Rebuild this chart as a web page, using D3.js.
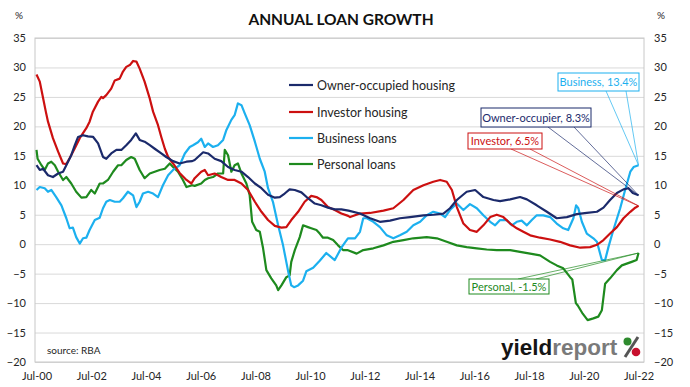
<!DOCTYPE html>
<html><head><meta charset="utf-8">
<script src="https://cdn.jsdelivr.net/npm/d3@7"></script>
<style>
html,body{margin:0;padding:0;background:#fff;}
svg{display:block;font-family:Lato,"Open Sans",sans-serif;}
</style></head>
<body><svg id="c" width="690" height="387"></svg>
<script>
// ---- DATA (decimal year, annual growth %) ----
const xTickYears = [2000.5,2002.5,2004.5,2006.5,2008.5,2010.5,2012.5,2014.5,2016.5,2018.5,2020.5,2022.5];
const xTickLabels = ["Jul-00","Jul-02","Jul-04","Jul-06","Jul-08","Jul-10","Jul-12","Jul-14","Jul-16","Jul-18","Jul-20","Jul-22"];
const yTicks = [35,30,25,20,15,10,5,0,-5,-10,-15,-20];
const seriesNames = ["Owner-occupied housing","Investor housing","Business loans","Personal loans"];
const seriesColors = ["#1b2a6b","#cc1010","#1cb0ef","#1e8a1e"];
const calloutTexts = ["Owner-occupier, 8.3%","Investor, 6.5%","Business, 13.4%","Personal, -1.5%"];

const ownerOccupied = [
[2000.50,13.4],[2000.62,12.6],[2000.74,12.8],[2000.92,11.7],[2001.10,11.4],[2001.29,12.0],[2001.47,12.3],[2001.59,13.4],
[2001.77,15.1],[2001.90,16.8],[2002.02,18.2],[2002.20,18.5],[2002.38,18.3],[2002.57,18.2],[2002.75,17.1],[2002.93,14.8],
[2003.05,14.5],[2003.23,15.4],[2003.42,16.0],[2003.60,16.0],[2003.78,16.8],[2003.96,17.7],[2004.13,18.8],[2004.27,17.7],
[2004.45,17.4],[2004.64,16.8],[2004.82,16.2],[2005.06,15.4],[2005.24,14.8],[2005.49,14.1],[2005.73,13.7],[2005.98,14.0],
[2006.19,14.1],[2006.28,14.3],[2006.59,15.6],[2006.77,15.4],[2007.01,14.5],[2007.25,14.1],[2007.50,13.1],[2007.74,12.6],
[2007.99,12.3],[2008.23,11.4],[2008.48,10.3],[2008.72,9.5],[2008.96,8.4],[2009.21,7.9],[2009.39,8.0],[2009.57,8.6],
[2009.75,9.3],[2009.94,9.2],[2010.18,8.8],[2010.42,7.8],[2010.67,6.9],[2010.91,6.6],[2011.15,6.2],[2011.40,5.9],
[2011.64,5.9],[2011.90,5.7],[2012.32,5.2],[2012.69,4.4],[2013.05,3.8],[2013.42,4.0],[2013.78,4.4],[2014.15,4.6],
[2014.64,4.9],[2015.00,5.0],[2015.37,5.2],[2015.61,6.1],[2015.86,7.5],[2016.22,8.9],[2016.53,9.2],[2016.83,8.0],
[2017.20,7.5],[2017.44,7.3],[2017.81,7.6],[2018.17,8.0],[2018.42,7.6],[2018.78,6.6],[2019.15,5.5],[2019.51,4.4],
[2019.88,4.6],[2020.24,5.1],[2020.61,5.3],[2020.98,5.5],[2021.22,6.2],[2021.46,7.5],[2021.71,8.7],[2021.95,9.3],
[2022.13,9.5],[2022.29,8.7],[2022.50,8.3]];

const investor = [
[2000.50,28.8],[2000.62,27.6],[2000.74,24.8],[2000.84,22.5],[2000.92,20.8],[2001.10,18.0],[2001.29,15.7],[2001.47,13.7],
[2001.59,13.6],[2001.71,14.6],[2001.90,16.3],[2002.08,18.0],[2002.32,19.7],[2002.44,20.8],[2002.56,22.5],[2002.75,24.2],
[2002.87,25.0],[2002.93,24.8],[2003.05,25.3],[2003.23,26.4],[2003.36,27.8],[2003.54,28.1],[2003.66,29.3],[2003.78,30.1],
[2003.91,30.4],[2004.03,31.1],[2004.15,31.0],[2004.27,29.8],[2004.45,27.6],[2004.64,24.7],[2004.76,22.5],[2004.94,20.2],
[2005.06,18.2],[2005.19,16.2],[2005.31,14.8],[2005.49,13.7],[2005.73,12.1],[2005.98,10.9],[2006.16,10.3],[2006.28,11.2],
[2006.52,12.3],[2006.65,12.6],[2006.77,11.7],[2007.01,12.0],[2007.25,11.4],[2007.50,10.9],[2007.74,10.9],[2007.99,10.3],
[2008.23,9.2],[2008.48,7.2],[2008.72,5.5],[2008.96,4.1],[2009.21,3.1],[2009.45,2.8],[2009.63,2.9],[2009.81,4.1],
[2010.06,5.5],[2010.30,7.2],[2010.54,8.2],[2010.73,8.0],[2010.91,7.5],[2011.15,6.3],[2011.40,5.8],[2011.64,5.2],
[2011.89,4.8],[2011.96,4.6],[2012.32,5.2],[2012.69,5.3],[2013.18,5.7],[2013.54,6.1],[2013.91,7.5],[2014.27,9.2],
[2014.64,10.0],[2015.00,10.6],[2015.25,10.9],[2015.49,10.6],[2015.68,9.2],[2015.86,6.3],[2016.10,3.5],[2016.34,2.4],
[2016.59,2.1],[2016.83,3.2],[2017.08,4.6],[2017.32,5.0],[2017.56,4.6],[2017.81,3.5],[2018.05,2.7],[2018.29,2.1],
[2018.54,1.5],[2018.90,1.1],[2019.27,0.8],[2019.63,0.4],[2020.00,-0.2],[2020.37,-0.6],[2020.73,-0.5],[2020.98,-0.1],
[2021.22,0.7],[2021.46,1.8],[2021.71,2.9],[2021.95,4.4],[2022.20,5.5],[2022.38,6.2],[2022.50,6.5]];

const business = [
[2000.50,9.2],[2000.62,9.7],[2000.80,9.5],[2000.92,8.9],[2001.04,9.2],[2001.22,8.0],[2001.41,6.6],[2001.59,4.4],
[2001.71,2.7],[2001.83,2.8],[2001.95,1.2],[2002.08,0.1],[2002.20,1.0],[2002.32,1.1],[2002.44,2.4],[2002.63,4.1],
[2002.81,4.5],[2002.93,6.1],[2003.05,7.2],[2003.18,7.5],[2003.36,7.2],[2003.54,7.2],[2003.66,7.8],[2003.84,8.9],
[2004.03,8.3],[2004.15,6.3],[2004.27,7.2],[2004.39,8.6],[2004.58,8.9],[2004.76,8.6],[2004.94,8.0],[2005.12,10.0],
[2005.31,11.7],[2005.49,12.6],[2005.73,13.4],[2005.92,15.4],[2006.10,16.5],[2006.22,16.8],[2006.40,17.3],[2006.52,17.9],
[2006.65,16.5],[2006.77,17.1],[2006.95,16.5],[2007.13,16.8],[2007.32,17.7],[2007.44,19.4],[2007.62,21.1],[2007.74,21.9],
[2007.86,23.9],[2007.99,23.6],[2008.11,22.2],[2008.29,20.2],[2008.48,17.4],[2008.66,14.5],[2008.84,12.3],[2008.96,9.5],
[2009.14,7.2],[2009.33,3.2],[2009.51,-0.2],[2009.70,-4.7],[2009.81,-7.0],[2009.91,-7.3],[2010.06,-7.0],[2010.24,-6.2],
[2010.36,-4.6],[2010.61,-4.0],[2010.85,-2.8],[2011.09,-1.5],[2011.40,-2.7],[2011.64,-0.6],[2011.88,1.0],[2012.14,1.0],
[2012.32,2.1],[2012.44,4.4],[2012.57,4.4],[2012.81,3.8],[2013.05,2.9],[2013.30,1.5],[2013.54,1.0],[2013.78,1.5],
[2014.03,2.1],[2014.27,3.2],[2014.52,3.8],[2014.76,4.9],[2015.00,5.5],[2015.25,5.2],[2015.43,4.6],[2015.61,5.8],
[2015.86,6.9],[2016.10,5.8],[2016.34,6.8],[2016.59,6.1],[2016.83,4.9],[2017.08,3.8],[2017.26,3.2],[2017.44,4.1],
[2017.68,4.1],[2017.87,3.2],[2018.05,3.8],[2018.23,4.0],[2018.42,3.2],[2018.60,4.1],[2018.78,4.9],[2019.02,4.9],
[2019.27,4.6],[2019.51,3.5],[2019.75,2.7],[2019.93,2.4],[2020.12,4.4],[2020.22,6.6],[2020.30,6.1],[2020.43,3.8],
[2020.61,1.8],[2020.85,1.0],[2020.98,0.4],[2021.16,-2.7],[2021.28,-2.7],[2021.40,-0.5],[2021.58,2.4],[2021.83,6.1],
[2022.01,9.2],[2022.20,12.3],[2022.32,13.1],[2022.50,13.4]];

const personal = [
[2000.50,16.0],[2000.54,14.5],[2000.68,13.4],[2000.80,12.6],[2000.92,13.7],[2001.04,14.0],[2001.17,13.4],[2001.29,12.3],
[2001.47,10.9],[2001.59,11.4],[2001.77,10.3],[2001.95,8.9],[2002.14,7.9],[2002.32,8.0],[2002.50,9.2],[2002.63,8.6],
[2002.81,10.3],[2002.93,10.3],[2003.11,10.9],[2003.30,12.3],[2003.48,13.4],[2003.60,13.4],[2003.78,14.3],[2003.96,14.8],
[2004.09,14.5],[2004.27,12.6],[2004.45,11.2],[2004.64,12.0],[2004.82,12.3],[2005.00,12.6],[2005.19,12.8],[2005.37,13.7],
[2005.49,13.1],[2005.67,12.3],[2005.85,10.9],[2005.98,9.7],[2006.19,10.0],[2006.28,9.9],[2006.52,10.3],[2006.65,10.9],
[2006.77,11.2],[2006.95,11.4],[2007.13,12.0],[2007.32,12.0],[2007.38,16.0],[2007.50,15.1],[2007.62,12.3],[2007.74,13.4],
[2007.86,13.7],[2007.99,12.0],[2008.17,10.3],[2008.29,8.3],[2008.38,3.8],[2008.53,2.4],[2008.66,2.1],[2008.78,-0.7],
[2008.90,-4.4],[2009.08,-5.8],[2009.26,-7.0],[2009.33,-7.8],[2009.45,-7.0],[2009.63,-5.6],[2009.75,-5.3],[2009.81,-3.0],
[2009.94,-1.0],[2010.12,1.2],[2010.24,3.2],[2010.42,2.9],[2010.54,2.7],[2010.73,2.4],[2010.85,1.8],[2010.97,1.1],
[2011.15,1.1],[2011.34,0.7],[2011.52,-0.2],[2011.70,-1.0],[2011.86,-1.0],[2012.20,-1.6],[2012.44,-1.0],[2012.81,-0.7],
[2013.18,-0.2],[2013.54,0.4],[2013.91,0.7],[2014.27,1.0],[2014.76,1.2],[2015.13,1.0],[2015.49,0.4],[2015.86,-0.2],
[2016.22,-0.5],[2016.59,-0.7],[2016.95,-0.9],[2017.32,-1.0],[2017.81,-1.0],[2018.17,-1.3],[2018.54,-1.6],[2018.90,-1.9],
[2019.27,-3.0],[2019.51,-3.6],[2019.75,-4.1],[2020.00,-5.6],[2020.08,-6.0],[2020.21,-10.0],[2020.28,-10.4],[2020.46,-11.8],
[2020.64,-12.9],[2020.85,-12.6],[2021.03,-12.3],[2021.16,-11.2],[2021.28,-6.7],[2021.46,-5.8],[2021.71,-4.4],[2021.89,-3.6],
[2022.07,-3.3],[2022.25,-3.0],[2022.43,-2.7],[2022.50,-1.5]];

const allSeries = [ownerOccupied, investor, business, personal];

// ---- CHART ----
const svg = d3.select("#c");
const L = 35, R = 644, T = 38, B = 362;
const x = d3.scaleLinear().domain([2000.445, 2022.70]).range([L, R]);
const y = d3.scaleLinear().domain([-20, 35]).range([B, T]);
const txt = "#262626";

// gridlines
svg.append("g").attr("transform", `translate(${L},0)`)
  .call(d3.axisLeft(y).tickValues(yTicks).tickSize(-(R - L)).tickFormat(""))
  .call(g => g.select(".domain").remove())
  .call(g => g.selectAll("line").attr("stroke", "#d9d9d9").attr("stroke-width", 1));
// frame
svg.append("rect").attr("x", L).attr("y", T).attr("width", R - L).attr("height", B - T)
  .attr("fill", "none").attr("stroke", "#c8c8c8").attr("stroke-width", 1);

// y labels left & right
svg.append("g").attr("transform", `translate(${L - 9},0)`)
  .call(d3.axisLeft(y).tickValues(yTicks).tickSize(0).tickPadding(0).tickFormat(d3.format("d")))
  .call(g => g.select(".domain").remove())
  .call(g => g.selectAll("text").attr("fill", txt).style("font-size", "11px").style("font-family", "Lato"));
svg.append("g").attr("transform", `translate(${R + 10},0)`)
  .call(d3.axisRight(y).tickValues(yTicks).tickSize(0).tickPadding(0).tickFormat(d3.format("d")))
  .call(g => g.select(".domain").remove())
  .call(g => g.selectAll("text").attr("fill", txt).style("font-size", "11px").style("font-family", "Lato"));

// x labels
svg.append("g").attr("transform", `translate(0,${B + 10})`)
  .call(d3.axisBottom(x).tickValues(xTickYears).tickSize(0).tickPadding(0)
    .tickFormat((d, i) => xTickLabels[i]))
  .call(g => g.select(".domain").remove())
  .call(g => g.selectAll("text").attr("fill", txt).style("font-size", "11px").style("font-family", "Lato"));

// % labels
svg.append("text").attr("x", 19).attr("y", 19).attr("text-anchor", "middle").attr("fill", txt)
  .style("font-size", "10px").text("%");
svg.append("text").attr("x", 661).attr("y", 19).attr("text-anchor", "middle").attr("fill", txt)
  .style("font-size", "10px").text("%");

// title
svg.append("text").attr("x", 341).attr("y", 25).attr("text-anchor", "middle").attr("fill", "#111")
  .style("font-size", "15.5px").style("font-weight", "bold").text("ANNUAL LOAN GROWTH");

// lines
const line = d3.line().x(d => x(d[0])).y(d => y(d[1]));
[3, 2, 1, 0].forEach(i => {
  svg.append("path").datum(allSeries[i]).attr("d", line).attr("fill", "none")
    .attr("stroke", seriesColors[i]).attr("stroke-width", 2.2).attr("stroke-linejoin", "round");
});

// legend
const legY = [85, 112, 138, 164];
seriesNames.forEach((n, i) => {
  svg.append("line").attr("x1", 289).attr("x2", 313).attr("y1", legY[i]).attr("y2", legY[i])
    .attr("stroke", seriesColors[i]).attr("stroke-width", 2.2);
  svg.append("text").attr("x", 317).attr("y", legY[i] + 4.5).attr("fill", txt)
    .style("font-size", "12.5px").text(n);
});

// callouts
const boxes = [
  {x: 481, y: 108, w: 110, h: 19, l1: 548, l2: 574, top: false},
  {x: 468, y: 133, w: 74, h: 16, l1: 511, l2: 530, top: false},
  {x: 558, y: 73, w: 81, h: 18, l1: 606, l2: 626, top: false},
  {x: 469, y: 279, w: 80, h: 15, l1: 518, l2: 536, top: true}
];
boxes.forEach((b, i) => {
  const s = allSeries[i];
  const last = s[s.length - 1];
  const ex = x(last[0]), ey = y(last[1]);
  const ly = b.top ? b.y : b.y + b.h;
  [b.l1, b.l2].forEach(lx => {
    svg.append("line").attr("x1", lx).attr("y1", ly).attr("x2", ex).attr("y2", ey)
      .attr("stroke", seriesColors[i]).attr("stroke-width", 0.8).attr("opacity", 0.85);
  });
  svg.append("rect").attr("x", b.x).attr("y", b.y).attr("width", b.w).attr("height", b.h)
    .attr("fill", "#fff").attr("stroke", seriesColors[i]).attr("stroke-width", 1);
  svg.append("text").attr("x", b.x + b.w / 2).attr("y", b.y + b.h / 2 + 4).attr("text-anchor", "middle")
    .attr("fill", seriesColors[i]).style("font-size", "11px").text(calloutTexts[i]);
});

// source
svg.append("text").attr("x", 47).attr("y", 354).attr("fill", txt).style("font-size", "10px").text("source: RBA");

// logo
const logo = svg.append("text").attr("x", 501).attr("y", 355)
  .style("font-family", "'Liberation Sans',Arial,sans-serif").style("font-size", "22.5px").style("font-weight", "bold");
logo.append("tspan").attr("fill", "#151515").text("yield");
logo.append("tspan").attr("fill", "#7a7a7a").text("report");
svg.append("line").attr("x1", 638).attr("y1", 337).attr("x2", 625).attr("y2", 357)
  .attr("stroke", "#555").attr("stroke-width", 3);
svg.append("circle").attr("cx", 627.5).attr("cy", 341.5).attr("r", 4).attr("fill", "#2e8b2e");
svg.append("circle").attr("cx", 636).attr("cy", 352).attr("r", 4.3).attr("fill", "#c8102e");
</script></body></html>
